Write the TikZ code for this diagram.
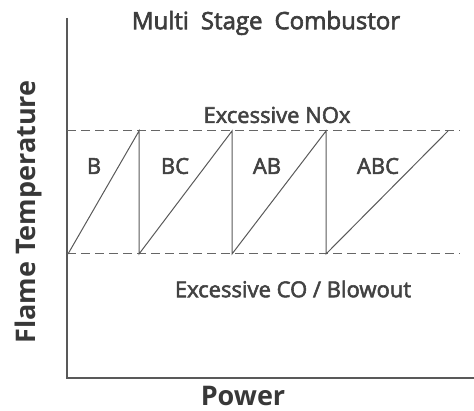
\documentclass[tikz,border=0pt]{standalone}
\usepackage{fontspec}
\setmainfont{Open Sans}
\newfontfamily\medfont[FakeBold=2.5]{Open Sans}
\begin{document}
\begin{tikzpicture}[x=1pt,y=-1pt,
  axis/.style={draw=black!65,line width=1.1pt},
  lim/.style={draw=black!60,line width=1pt,dash pattern=on 9pt off 5pt},
  saw/.style={draw=black!65,line width=1pt},
  lbl/.style={text=black!74,font=\medfont\fontsize{22}{26}\selectfont},
  ttl/.style={text=black!76,font=\medfont\fontsize{24}{28}\selectfont},
  axl/.style={text=black!78,font=\bfseries\fontsize{27}{31}\selectfont}]
\useasboundingbox (0,0) rectangle (474,411);
% axes
\coordinate (ytop) at (67,18);
\coordinate (orig) at (67,378);
\coordinate (xend) at (474,378);
\draw[axis] (ytop) -- (orig) -- (xend);
% limit lines
\coordinate (tl) at (67,131);
\coordinate (tr) at (460,131);
\coordinate (bl) at (67,254);
\coordinate (br) at (460,254);
\draw[lim] (tl) -- (tr);
\draw[lim] (bl) -- (br);
% sawtooth
\coordinate (p0) at (68,254);
\coordinate (p1) at (139,131);
\coordinate (p2) at (139,254);
\coordinate (p3) at (232,131);
\coordinate (p4) at (232,254);
\coordinate (p5) at (326,131);
\coordinate (p6) at (326,254);
\coordinate (p7) at (448,131);
\draw[saw] (p0) -- (p1) -- (p2) -- (p3) -- (p4) -- (p5) -- (p6) -- (p7);
% labels
\node[lbl] (b) at (94,166) {B};
\node[lbl] (bc) at (175,166) {BC};
\node[lbl] (ab) at (267,166) {AB};
\node[lbl] (abc) at (378,166) {ABC};
\node[ttl] (title) at (266,23) {Multi\hspace{12pt}Stage\hspace{12pt}Combustor};
\node[lbl] (nox) at (277,115) {Excessive NOx};
\node[lbl] (co) at (293,289) {Excessive CO / Blowout};
\node[axl] (power) at (243,396) {Power};
\node[axl,rotate=90] (flame) at (28,212) {Flame Temperature};
\end{tikzpicture}
\end{document}
